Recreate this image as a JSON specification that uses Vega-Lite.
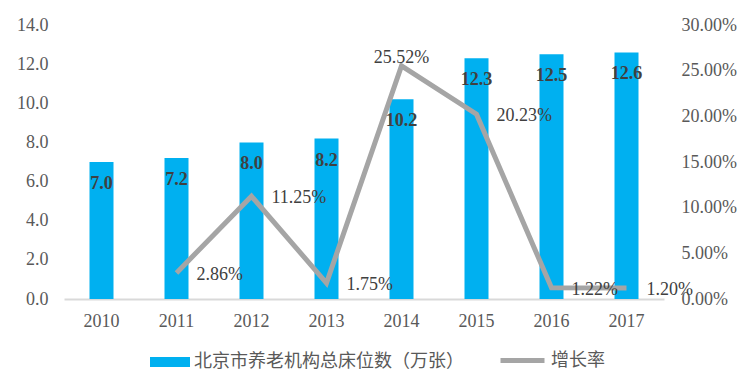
{
  "$schema": "https://vega.github.io/schema/vega-lite/v6.json",
  "width": 600,
  "height": 274,
  "padding": {"left": 16, "top": 16, "right": 10, "bottom": 10},
  "background": "white",
  "data": {
    "values": [
      {"year": "2010", "beds": 7.0, "rate": null},
      {"year": "2011", "beds": 7.2, "rate": 0.0286},
      {"year": "2012", "beds": 8.0, "rate": 0.1125},
      {"year": "2013", "beds": 8.2, "rate": 0.0175},
      {"year": "2014", "beds": 10.2, "rate": 0.2552},
      {"year": "2015", "beds": 12.3, "rate": 0.2023},
      {"year": "2016", "beds": 12.5, "rate": 0.0122},
      {"year": "2017", "beds": 12.6, "rate": 0.0120}
    ]
  },
  "encoding": {
    "x": {
      "field": "year", "type": "ordinal", "title": null,
      "scale": {"paddingInner": 0, "paddingOuter": 0},
      "axis": {"labelAngle": 0, "ticks": false, "domainColor": "#D9D9D9", "domainWidth": 2, "labelPadding": 13, "grid": false}
    }
  },
  "layer": [
    {
      "mark": {"type": "bar", "size": 24},
      "encoding": {
        "y": {"field": "beds", "type": "quantitative", "title": null,
          "scale": {"domain": [0, 14], "nice": false},
          "axis": {"values": [0, 2, 4, 6, 8, 10, 12, 14], "format": ".1f", "grid": false, "domain": false, "ticks": false, "labelPadding": 16}},
        "color": {"datum": "北京市养老机构总床位数（万张）", "type": "nominal", "scale": {"range": ["#00B0F0"]},
          "legend": {"orient": "none", "legendX": 86, "legendY": 317, "symbolType": "M-1,-0.25H1V0.25H-1Z", "symbolSize": 1600, "symbolStrokeWidth": 0}}
      }
    },
    {
      "transform": [{"filter": "datum.rate != null"}],
      "mark": {"type": "line", "strokeWidth": 5, "strokeJoin": "miter"},
      "encoding": {
        "y": {"field": "rate", "type": "quantitative", "title": null,
          "scale": {"domain": [0, 0.3], "nice": false},
          "axis": {"orient": "right", "values": [0, 0.05, 0.1, 0.15, 0.2, 0.25, 0.3], "format": ".2%", "grid": false, "domain": false, "ticks": false, "labelPadding": 17}},
        "stroke": {"datum": "增长率", "type": "nominal", "scale": {"range": ["#A5A5A5"]},
          "legend": {"orient": "none", "legendX": 434, "legendY": 311, "symbolType": "stroke", "symbolSize": 1936, "symbolStrokeWidth": 5}}
      }
    },
    {
      "mark": {"type": "text", "font": "Liberation Serif", "fontWeight": "bold", "fontSize": 18, "color": "#404040", "baseline": "middle", "dy": 22},
      "encoding": {
        "y": {"field": "beds", "type": "quantitative", "scale": {"domain": [0, 14], "nice": false}, "axis": null},
        "text": {"field": "beds", "type": "quantitative", "format": ".1f"}
      }
    },
    {
      "transform": [{"filter": "datum.rate != null && datum.year != '2014'"}],
      "mark": {"type": "text", "font": "Liberation Serif", "fontSize": 18, "color": "#404040", "align": "left", "baseline": "middle", "dx": 20, "dy": 2},
      "encoding": {
        "y": {"field": "rate", "type": "quantitative", "scale": {"domain": [0, 0.3], "nice": false}, "axis": null},
        "text": {"field": "rate", "type": "quantitative", "format": ".2%"}
      }
    },
    {
      "transform": [{"filter": "datum.year == '2014'"}],
      "mark": {"type": "text", "font": "Liberation Serif", "fontSize": 18, "color": "#404040", "align": "center", "baseline": "middle", "dy": -8},
      "encoding": {
        "y": {"field": "rate", "type": "quantitative", "scale": {"domain": [0, 0.3], "nice": false}, "axis": null},
        "text": {"field": "rate", "type": "quantitative", "format": ".2%"}
      }
    }
  ],
  "resolve": {"scale": {"y": "independent"}},
  "config": {
    "view": {"stroke": null},
    "axis": {"labelFont": "Liberation Serif", "labelFontSize": 18, "labelColor": "#595959"},
    "legend": {"title": null, "labelFont": "Noto Sans CJK SC", "labelFontSize": 18, "labelColor": "#595959", "labelLimit": 400, "labelOffset": 4}
  }
}
